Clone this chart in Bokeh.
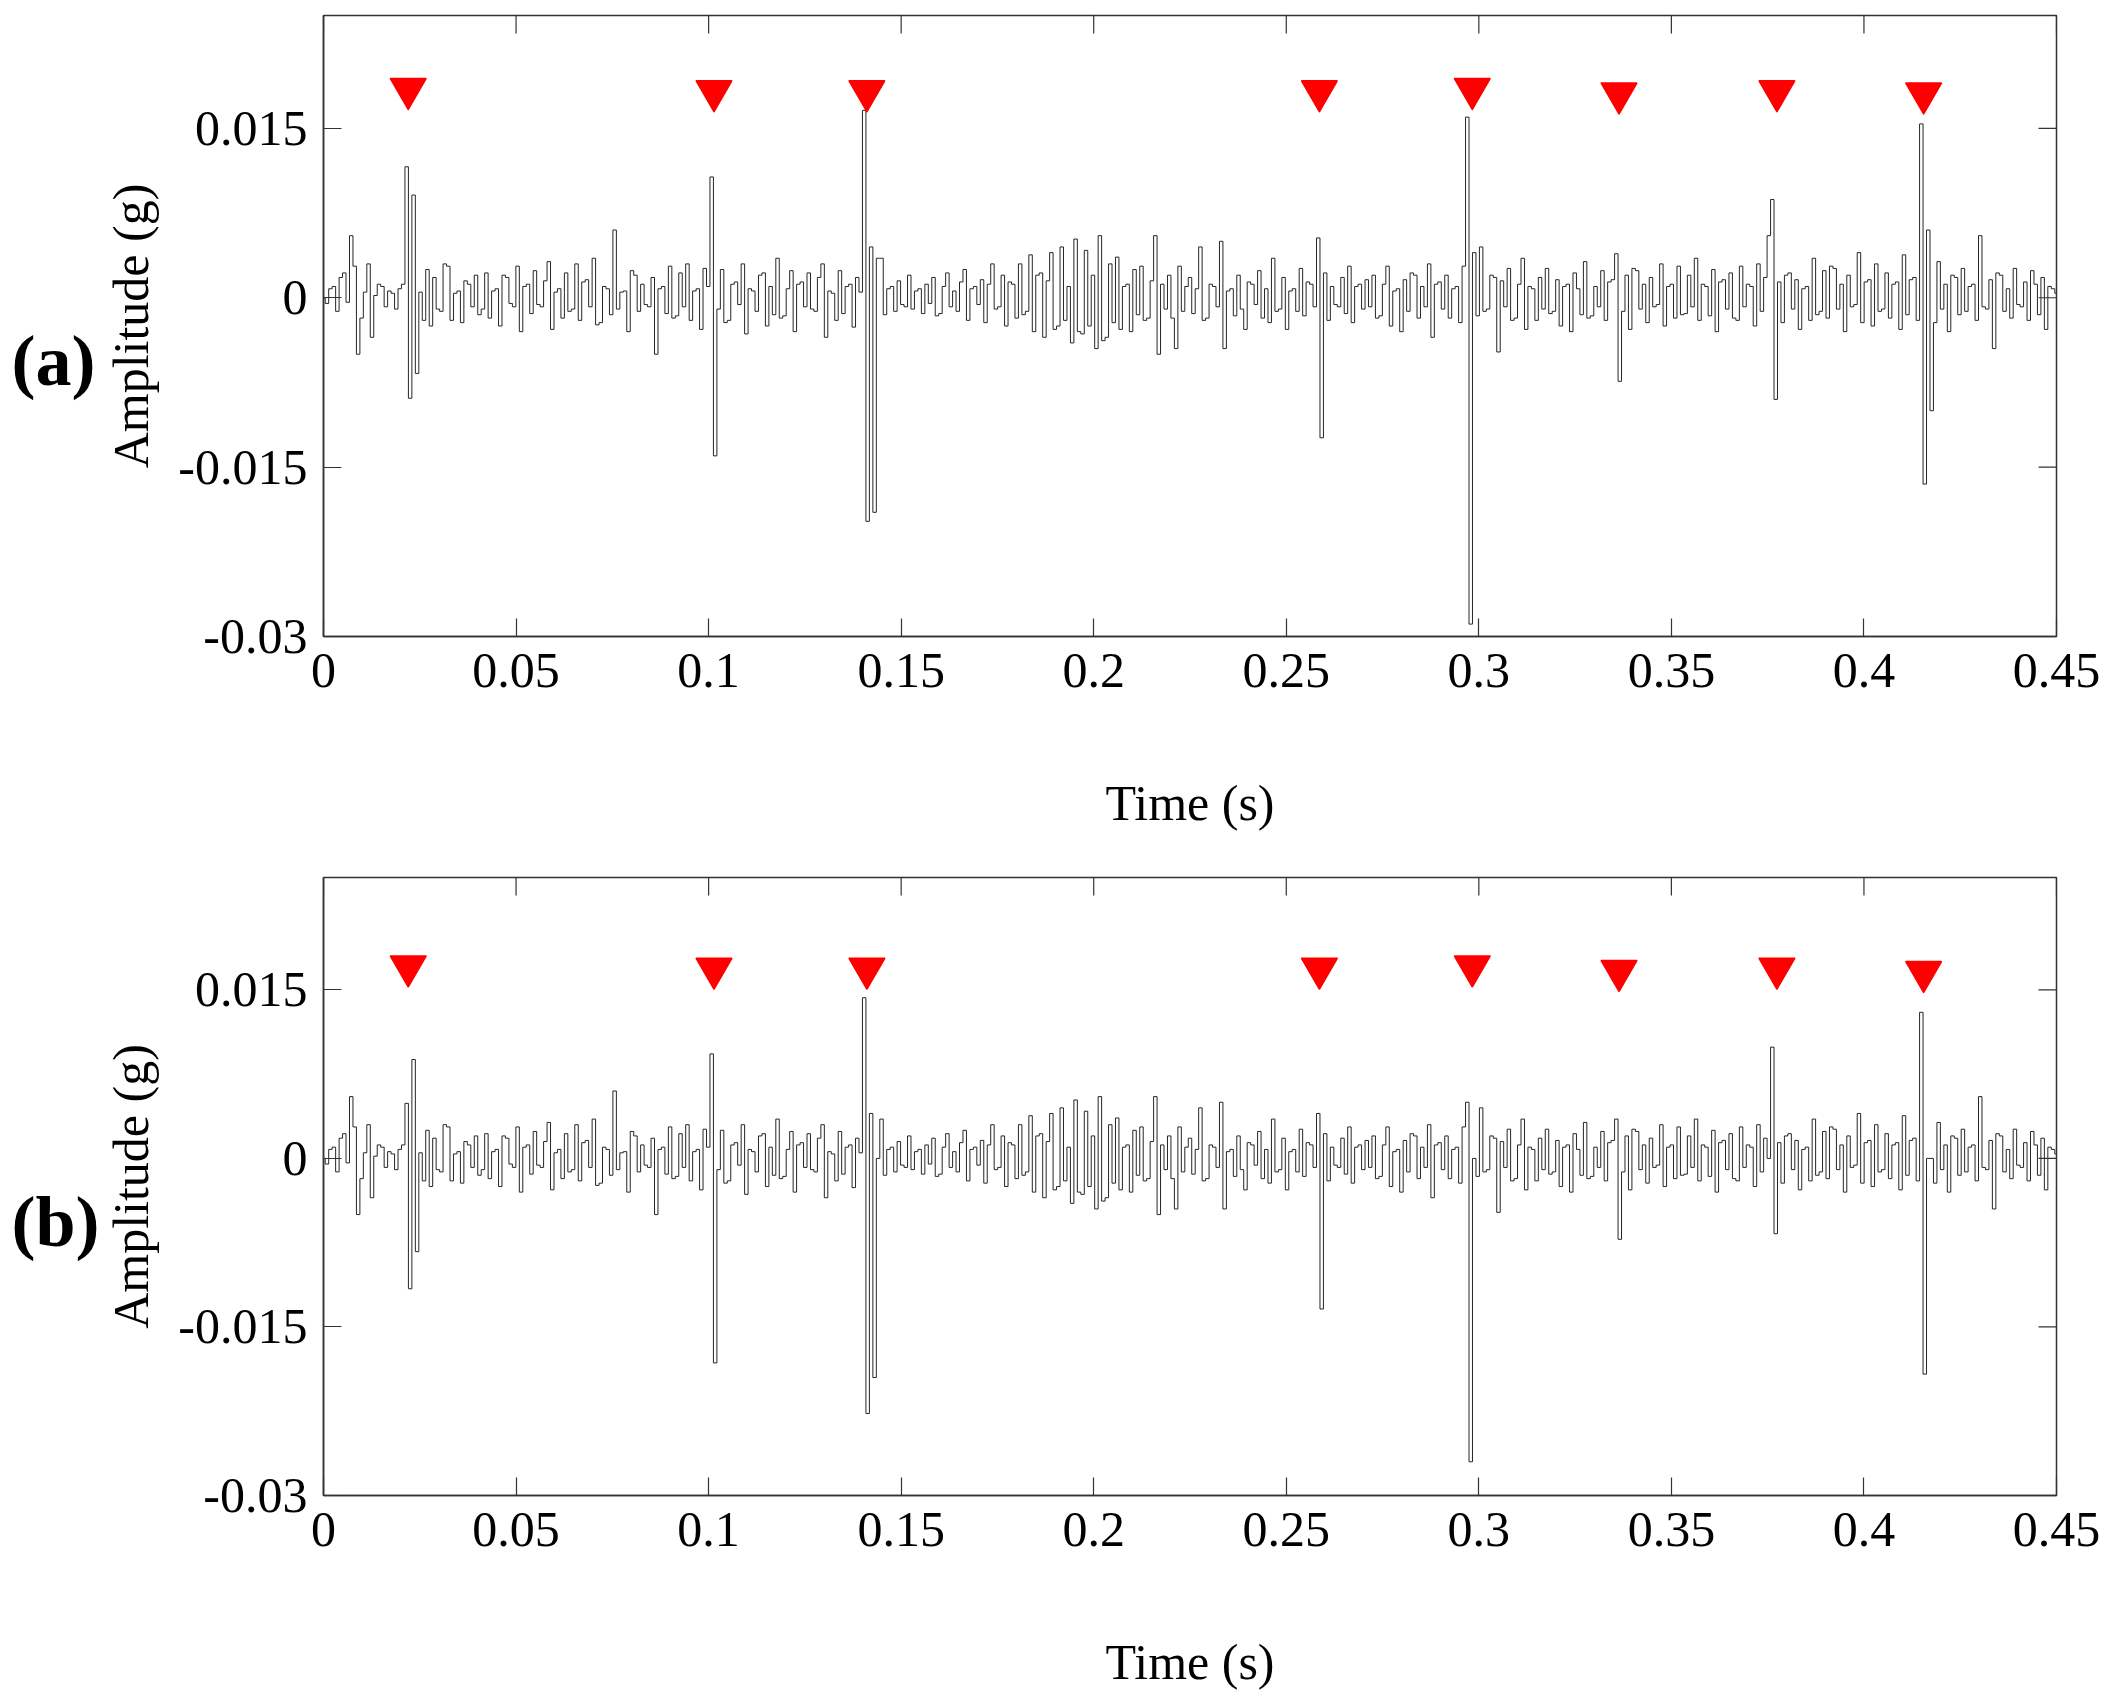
import numpy as np
from bokeh.plotting import figure
from bokeh.layouts import column, row
from bokeh.models import Range1d, FixedTicker, CustomJSTickFormatter, ColumnDataSource
from bokeh.core.properties import value
from bokeh.embed import file_html
from bokeh.resources import INLINE

# ---------------- data (amplitudes in units of 1e-4 g) ----------------
dt = 0.0009  # sample spacing (s)

noise = [
    0, -5, 8, 10, -12, 18, 22, -4, 55, 28, -50, -18, 5, 30, -35, 2, 12, 10, -8, 6, 4, -10, 8, 12, 0,
    0, -5, 0, 5, -20, 25, -25, 18, -10, -12, 30, 28, -20, 4, 6, -22, 15, 12, -8, 20, -15, -10, 22, -18, 6,
    8, -25, 20, 18, -5, -8, 28, -30, 10, 12, -14, 24, -6, -8, 15, 32, -28, 5, 8, -18, 22, -12, -10, 30, -20,
    14, 16, -8, 35, -24, -22, 10, 8, -15, 60, -10, 5, 6, -30, 24, 20, -12, 12, -6, -8, 18, -50, 8, 10, -14,
    28, -18, -16, 22, -8, 30, -20, 6, 8, -28, 26, 10, 0, 0, -10, 25, -22, -20, 12, 14, -6, 30, -32, 8, 6,
    -12, 20, 22, -25, 10, -15, 35, -18, -16, 8, 24, -30, 12, 14, -8, 22, -10, -12, 18, 30, -35, 6, 4, -20, 24,
    -14, 10, 12, -26, 18, 5, 0, 0, 0, 0, 0, 35, -15, 8, 10, -12, 15, -6, -8, 20, -10, 6, 8, -14, 12,
    -5, 18, -16, -14, 10, 22, -8, 6, -12, 14, 25, -20, 8, 10, -6, 16, -22, 12, 30, -10, -8, 20, -25, 14, 12,
    -18, 30, -15, -12, 38, -30, 20, 22, -35, 15, 40, -28, -25, 45, -20, 10, -40, 52, -30, -32, 42, -25, 20, -45, 55,
    -38, -35, 30, -22, 36, -28, 10, 12, -30, 25, -15, 28, -20, -18, 15, 55, -50, 12, -10, 20, -18, -45, 28, -12, 10,
    18, -14, 8, 45, -20, -18, 12, 10, -8, 50, -45, 6, 8, -16, 20, -10, -28, 14, 12, -6, 24, -18, 8, -22, 35,
    -12, -10, 18, -28, 6, 8, -12, 26, -16, 14, 12, -8, 0, 0, 22, -20, 10, -6, -8, 18, -14, 28, -22, 10, 12,
    -10, 16, -8, 20, -18, -16, 12, 28, -25, 6, 8, -30, 16, -12, 22, 20, -18, 10, -8, 30, -35, 12, 14, -10, 20,
    -18, 8, 10, -22, 28, 0, 0, 0, -16, 45, -12, -10, 20, 18, -48, 15, -8, 26, -20, -18, 12, 35, -28, 10, 8,
    -20, 18, -10, 26, -14, -12, 16, -25, 10, 12, -30, 22, 8, -15, 32, -18, -16, 10, -8, 24, -20, 14, 16, 0, 0,
    -12, 20, -28, 26, 24, -10, 12, -22, 18, -8, -6, 30, -25, 10, 12, -18, 28, -15, -14, 20, -8, 35, -20, 12, 10,
    -16, 25, -30, 14, 16, -10, 22, -18, -20, 28, -8, 12, 10, -25, 30, -12, 18, 0, 0, 0, 14, -22, 20, 22, -10,
    16, -28, 8, 10, -20, 35, -15, -12, 24, -18, 28, 26, -10, 12, -30, 20, -8, -6, 40, -22, 14, 16, -25, 30, -12,
    -10, 22, -18, 12, 14, -28, 38, -15, 16, 18, -20, 0, 0, 0, 0, -22, 32, -10, 12, -30, 20, 18, -15, 26, -12,
    10, 12, -20, 55, -8, -10, 16, -45, 22, 20, -12, 8, -18, 26, -6, -8, 14, -20, 24, 12, -15, 18, -28, 10, 8,
    4,
]

# impulse samples (sample index, amplitude in 1e-4 g)
spikes_a = [(24, 116), (25, -89), (26, 91), (27, -67),
            (112, 107), (113, -140),
            (156, 166), (157, -198), (158, 45), (159, -190), (160, 35),
            (287, 53), (288, -124),
            (330, 160), (331, -289), (332, 40),
            (373, 39), (374, -74),
            (417, 55), (418, 87), (419, -90),
            (461, 154), (462, -165), (463, 60), (464, -100)]
spikes_b = [(24, 49), (25, -116), (26, 88), (27, -83),
            (112, 93), (113, -182),
            (156, 143), (157, -227), (158, 40), (159, -195),
            (287, 40), (288, -134),
            (330, 50), (331, -270),
            (373, 35), (374, -72),
            (418, 99), (419, -67),
            (461, 130), (462, -192)]

# red inverted-triangle markers
marker_t = [0.0220, 0.1014, 0.1411, 0.2586, 0.2983, 0.3364, 0.3774, 0.4155]
marker_a = [0.0185, 0.0183, 0.0183, 0.0183, 0.0185, 0.0181, 0.0183, 0.0181]
marker_b = [0.0171, 0.0169, 0.0169, 0.0169, 0.0171, 0.0167, 0.0169, 0.0166]

x_ticks = [0, 0.05, 0.1, 0.15, 0.2, 0.25, 0.3, 0.35, 0.4, 0.45]
y_ticks = [-0.03, -0.015, 0, 0.015]
x_lim = (0, 0.45)
y_lim = (-0.03, 0.025)

panel_tags = ["(a)", "(b)"]
tag_y = [-0.0056, -0.0057]

# ---------------- build ----------------
t = np.arange(len(noise)) * dt


def build_signal(spikes):
    s = np.array(noise, dtype=float)
    for i, v in spikes:
        s[i] = v
    return s * 1e-4


FONT = "Liberation Serif"
AX = "#333333"
TAG_W = 100
fmt_code = """
var s = tick.toFixed(3);
s = s.replace(/0+$/, '');
s = s.replace(/\\.$/, '');
if (s == '-0') { s = '0'; }
return s;
"""


def make_tag(tag, height, ypos):
    q = figure(width=TAG_W, height=height, x_range=Range1d(0, 1), y_range=Range1d(*y_lim),
               output_backend="svg", toolbar_location=None,
               min_border_left=0, min_border_right=0, min_border_top=0, min_border_bottom=0)
    q.axis.visible = False
    q.xgrid.visible = False
    q.ygrid.visible = False
    q.outline_line_color = None
    q.text(x=[0.11], y=[ypos], text=[tag], text_font=value(FONT),
           text_font_style="bold", text_font_size="72px", text_color="black",
           text_align="left", text_baseline="middle")
    return q


def make_panel(sig, my, height, top, bottom):
    p = figure(width=2010, height=height,
               x_range=Range1d(*x_lim), y_range=Range1d(*y_lim),
               output_backend="svg", toolbar_location=None,
               min_border_left=321 - TAG_W, min_border_right=54,
               min_border_top=top, min_border_bottom=bottom)
    p.xgrid.visible = False
    p.ygrid.visible = False
    p.outline_line_color = AX
    p.outline_line_width = 1.5

    p.step(t, sig, mode="center", line_color="#262626", line_width=1)

    src = ColumnDataSource(dict(x=marker_t, y=my))
    p.scatter("x", "y", source=src, marker="inverted_triangle", size=35,
              fill_color="#ff0000", line_color="#ff0000", line_width=2,
              line_join="round")

    # inward ticks on the top and right edges
    p.scatter(x_ticks, [y_lim[1]] * len(x_ticks), marker="dash", size=36,
              angle=np.pi / 2, line_color=AX, line_width=1.2)
    p.scatter([x_lim[1]] * len(y_ticks), y_ticks, marker="dash", size=36,
              line_color=AX, line_width=1.2)

    for ax, ticks, lab in ((p.xaxis[0], x_ticks, "Time (s)"),
                           (p.yaxis[0], y_ticks, "Amplitude (g)")):
        ax.ticker = FixedTicker(ticks=ticks)
        ax.formatter = CustomJSTickFormatter(code=fmt_code)
        ax.axis_label = lab
        ax.axis_label_text_font = FONT
        ax.axis_label_text_font_style = "normal"
        ax.axis_label_text_font_size = "50px"
        ax.axis_label_text_color = "black"
        ax.major_label_text_font = FONT
        ax.major_label_text_font_size = "50px"
        ax.major_label_text_color = "black"
        ax.axis_line_color = AX
        ax.axis_line_width = 1.5
        ax.major_tick_line_color = AX
        ax.major_tick_line_width = 1.2
        ax.major_tick_in = 18
        ax.major_tick_out = 0
        ax.minor_tick_line_color = None
    p.xaxis[0].major_label_standoff = 17
    p.xaxis[0].axis_label_standoff = 85
    p.yaxis[0].major_label_standoff = 16
    p.yaxis[0].axis_label_standoff = 16
    return p


H1, H2 = 838, 857
p1 = make_panel(build_signal(spikes_a), marker_a, H1, top=15, bottom=202)
p2 = make_panel(build_signal(spikes_b), marker_b, H2, top=877 - H1, bottom=200)
t1 = make_tag(panel_tags[0], H1, tag_y[0])
t2 = make_tag(panel_tags[1], H2, tag_y[1])

layout = column(row(t1, p1, spacing=0), row(t2, p2, spacing=0), spacing=0)
open("out.html", "w").write(file_html(layout, INLINE))
